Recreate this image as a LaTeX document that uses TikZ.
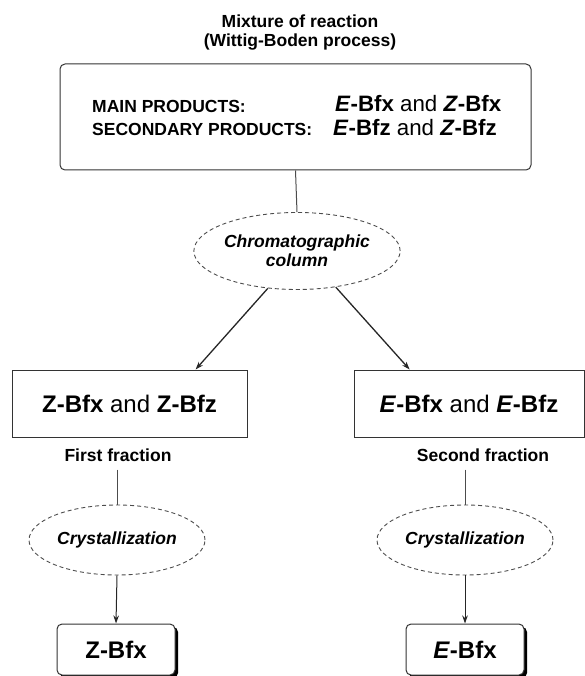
\documentclass[tikz,border=0pt]{standalone}
\usepackage{fontspec}
\setmainfont{Liberation Sans}
\usetikzlibrary{shapes.geometric,arrows.meta,shadows,calc}
\newcommand{\smallsz}{\fontsize{17.5}{19}\selectfont}
\newcommand{\bigsz}{\fontsize{24}{26}\selectfont}
\newcommand{\midsz}{\fontsize{22.3}{24}\selectfont}
\newcommand{\iso}[2]{\textbf{\textit{#1}-#2}}
\begin{document}
\begin{tikzpicture}[x=1pt,y=-1pt,
    box/.style={draw=black!80,line width=1pt,inner sep=0pt},
    oval/.style={ellipse,draw=black!70,dash pattern=on 4pt off 3pt,line width=0.9pt,
      inner sep=0pt,font=\smallsz\bfseries\itshape,align=center},
    lbl/.style={font=\smallsz\bfseries,align=center,inner sep=0pt},
    res/.style={box,rounded corners=5pt,minimum width=118pt,minimum height=51pt,font=\bigsz,
      drop shadow={shadow xshift=3pt,shadow yshift=-3pt,fill=black,opacity=1},fill=white},
    arr/.style={-{Stealth[length=8pt,width=5.5pt]},line width=1pt,black!85},
    lnk/.style={line width=1pt,black!70}]
  \useasboundingbox (0,0) rectangle (585,676);
  \node[lbl] (title) at (300,33) {Mixture of reaction\\(Wittig-Boden process)};
  \node[box,rounded corners=5pt,minimum width=471pt,minimum height=106pt] (mix) at (295.5,117) {};
  \node[lbl,anchor=base west] (mainlbl) at (92,113) {MAIN PRODUCTS:};
  \node[lbl,anchor=base west] (seclbl) at (92,136) {SECONDARY PRODUCTS:};
  \node[anchor=base west,inner sep=0pt,font=\midsz] (mainprod) at (335,112) {\iso{E}{Bfx} and \iso{Z}{Bfx}};
  \node[anchor=base west,inner sep=0pt,font=\midsz] (secprod) at (333,136) {\iso{E}{Bfz} and \iso{Z}{Bfz}};
  \node[oval,minimum width=195pt,minimum height=77pt] (chrom) at (297,251) {Chromatographic\\column};
  \node[box,minimum width=235pt,minimum height=67pt,font=\bigsz] (zfrac) at (129.5,403.5) {\textbf{Z-Bfx} and \textbf{Z-Bfz}};
  \node[box,minimum width=230pt,minimum height=67pt,font=\bigsz] (efrac) at (469,403.5) {\iso{E}{Bfx} and \iso{E}{Bfz}};
  \node[lbl] (first) at (118,455) {First fraction};
  \node[lbl] (second) at (483,455) {Second fraction};
  \node[oval,minimum width=176pt,minimum height=70pt] (crysz) at (117,540) {Crystallization};
  \node[oval,minimum width=176pt,minimum height=70pt] (cryse) at (465,540) {Crystallization};
  \node[res] (zbfx) at (116,649.5) {\textbf{Z-Bfx}};
  \node[res] (ebfx) at (465,649.5) {\iso{E}{Bfx}};
  \draw[lnk] (mix.south) -- (chrom.north);
  \draw[arr,line width=1.3pt] (chrom.232) -- ($(zfrac.north west)!0.78!(zfrac.north east)$);
  \draw[arr,line width=1.3pt] (chrom.-43) -- ($(efrac.north west)!0.243!(efrac.north east)$);
  \draw[lnk] ($(first.south)+(-1,8)$) -- (crysz.north);
  \draw[lnk] ($(second.south)+(-18,8)$) -- (cryse.north);
  \draw[arr] (crysz.south) -- (zbfx.north);
  \draw[arr] (cryse.south) -- (ebfx.north);
\end{tikzpicture}
\end{document}
